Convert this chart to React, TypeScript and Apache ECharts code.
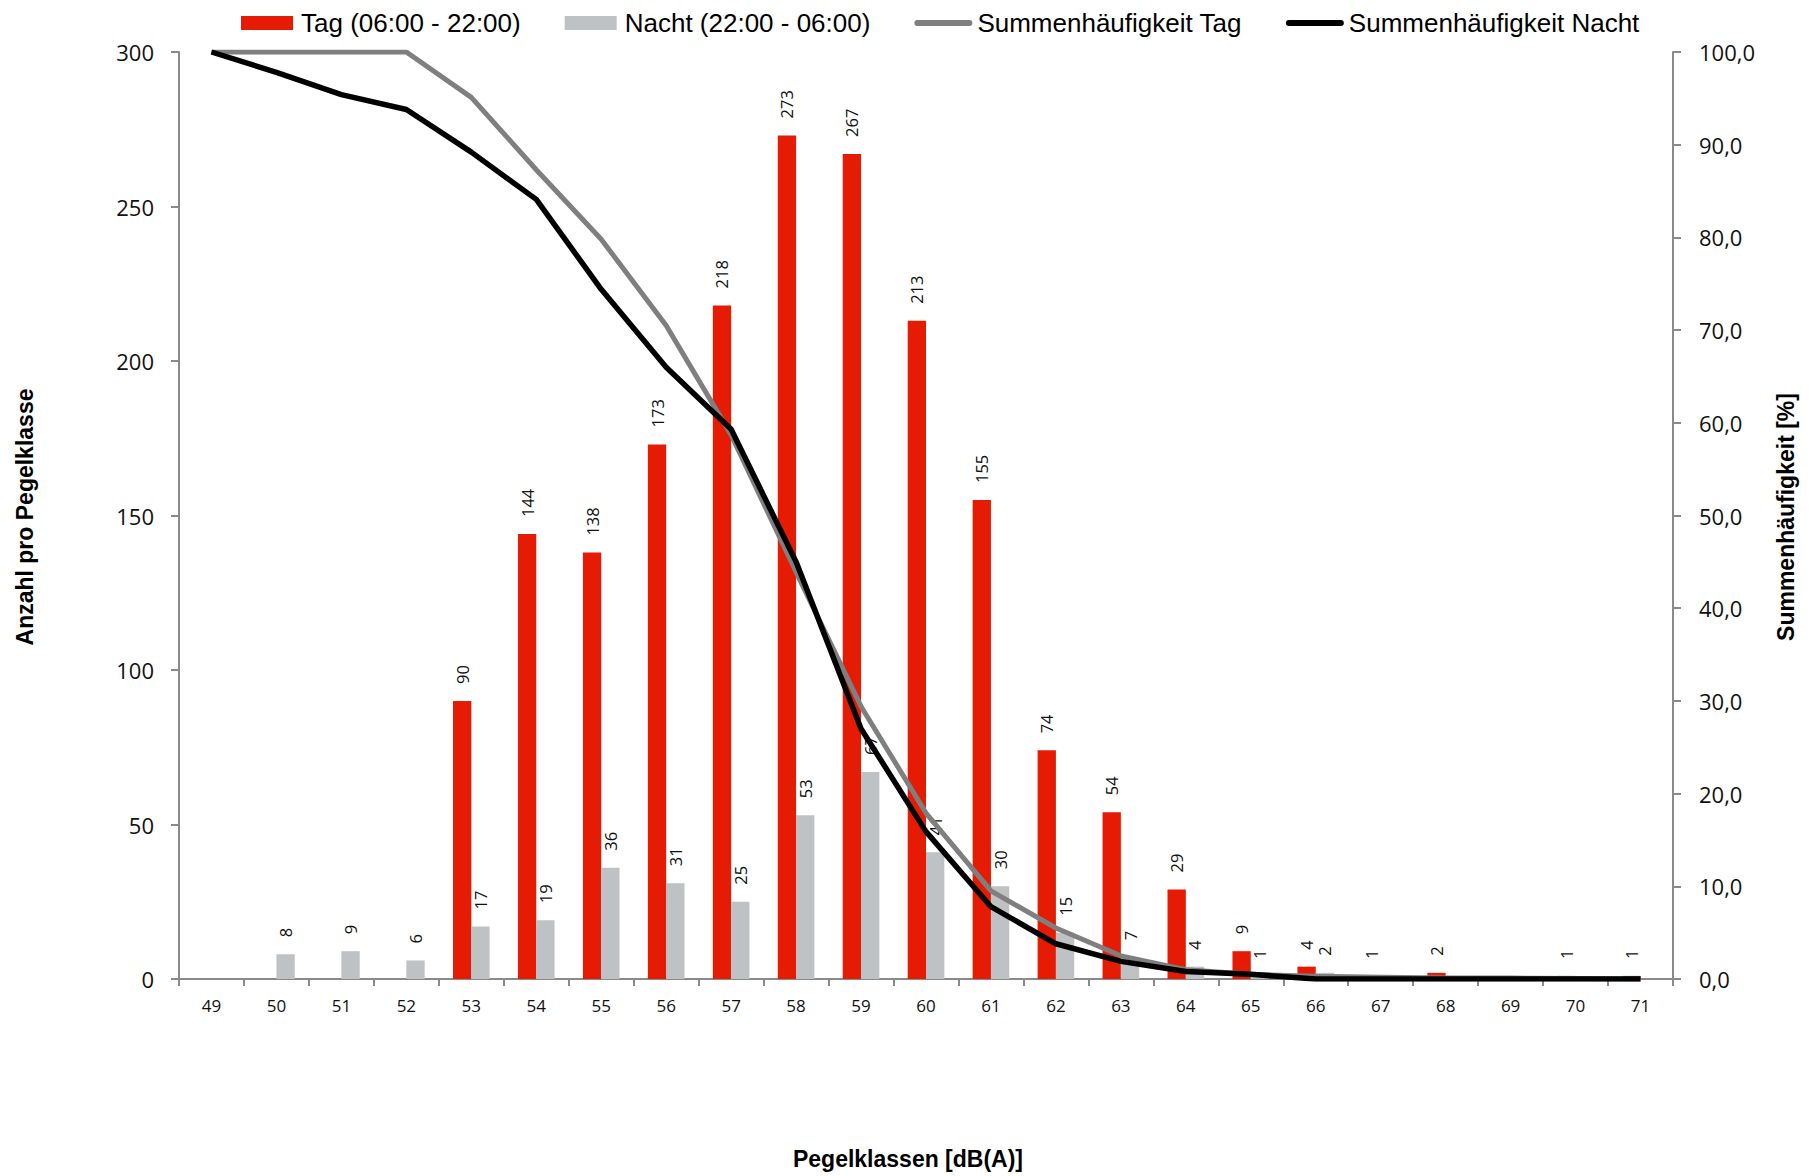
import React, { useEffect, useRef } from "react";
import * as echarts from "echarts";

const categories = ["49","50","51","52","53","54","55","56","57","58","59","60","61","62","63","64","65","66","67","68","69","70","71"];
const tagCounts = [0,0,0,0,90,144,138,173,218,273,267,213,155,74,54,29,9,4,1,2,0,1,1];
const nachtCounts = [0,8,9,6,17,19,36,31,25,53,67,41,30,15,7,4,1,2,0,0,0,0,0];
const tagCumulative = [100.0,100.0,100.0,100.0,95.1,87.3,79.8,70.5,58.7,43.9,29.4,17.9,9.5,5.5,2.5,1.0,0.5,0.3,0.2,0.1,0.1,0.05,0.0];
const nachtCumulative = [100.0,97.8,95.4,93.8,89.2,84.1,74.4,66.0,59.3,45.0,27.0,15.9,7.8,3.8,1.9,0.8,0.5,0.0,0.0,0.0,0.0,0.0,0.0];
const leftTicks = { min: 0, max: 300, interval: 50 };
const rightTicks = { min: 0, max: 100, interval: 10 };

const seriesNames = ["Tag (06:00 - 22:00)", "Nacht (22:00 - 06:00)", "Summenhäufigkeit Tag", "Summenhäufigkeit Nacht"];
const titles = { left: "Anzahl pro Pegelklasse", right: "Summenhäufigkeit [%]", bottom: "Pegelklassen [dB(A)]" };

const RED = "#E51B04";
const GREY_BAR = "#BEC2C4";
const GREY_LINE = "#7F7F7F";
const AXIS = "#8A8A8A";
const NUM_FONT = "'Open Sans', 'DejaVu Sans', sans-serif";
const TXT_FONT = "'Liberation Sans', Arial, sans-serif";

export default function App() {
  const ref = useRef<HTMLDivElement>(null);
  useEffect(() => {
    if (!ref.current) return;
    const chart = echarts.init(ref.current, null, { renderer: "svg" });
    const barLabel = {
      show: true,
      position: "top" as const,
      rotate: 90,
      align: "left" as const,
      verticalAlign: "middle" as const,
      distance: 17,
      fontFamily: NUM_FONT,
      fontSize: 16.5,
      color: "#111",
      formatter: (p: any) => (p.value ? String(p.value) : ""),
    };
    chart.setOption({
      animation: false,
      backgroundColor: "#fff",
      legend: {
        left: 236,
        top: 5,
        itemWidth: 52,
        itemHeight: 14,
        itemGap: 44,
        textStyle: { fontFamily: TXT_FONT, fontSize: 26, color: "#000", padding: [0, 0, 0, 3] },
        data: [
          { name: seriesNames[0], icon: "rect" },
          { name: seriesNames[1], icon: "rect" },
          { name: seriesNames[2], lineStyle: { width: 6, cap: "round" }, itemStyle: { opacity: 0 } },
          { name: seriesNames[3], lineStyle: { width: 6, cap: "round" }, itemStyle: { opacity: 0 } },
        ],
      },
      grid: { left: 179, right: 140, top: 52, bottom: 197, containLabel: false },
      xAxis: {
        type: "category",
        data: categories,
        boundaryGap: true,
        axisLine: { lineStyle: { color: AXIS, width: 2 } },
        axisTick: { show: true, length: 7, lineStyle: { color: AXIS, width: 2 } },
        axisLabel: { fontFamily: NUM_FONT, fontSize: 17, color: "#111", margin: 18 },
        splitLine: { show: false },
      },
      yAxis: [
        {
          type: "value",
          min: leftTicks.min,
          max: leftTicks.max,
          interval: leftTicks.interval,
          position: "left",
          axisLine: { show: true, lineStyle: { color: AXIS, width: 2 } },
          axisTick: { show: true, length: 8, lineStyle: { color: AXIS, width: 2 } },
          axisLabel: { fontFamily: NUM_FONT, fontSize: 22, color: "#111", margin: 25 },
          splitLine: { show: false },
        },
        {
          type: "value",
          min: rightTicks.min,
          max: rightTicks.max,
          interval: rightTicks.interval,
          position: "right",
          axisLine: { show: true, lineStyle: { color: AXIS, width: 2 } },
          axisTick: { show: true, length: 8, lineStyle: { color: AXIS, width: 2 } },
          axisLabel: {
            fontFamily: NUM_FONT,
            fontSize: 22,
            color: "#111",
            margin: 26,
            formatter: (v: number) => v.toFixed(1).replace(".", ","),
          },
          splitLine: { show: false },
        },
      ],
      series: [
        {
          name: seriesNames[0],
          type: "bar",
          data: tagCounts,
          itemStyle: { color: RED },
          barGap: "0%",
          barCategoryGap: "43.6%",
          label: barLabel,
          z: 2,
        },
        {
          name: seriesNames[1],
          type: "bar",
          data: nachtCounts,
          itemStyle: { color: GREY_BAR },
          barGap: "0%",
          barCategoryGap: "43.6%",
          label: barLabel,
          z: 2,
        },
        {
          name: seriesNames[2],
          type: "line",
          yAxisIndex: 1,
          data: tagCumulative,
          symbol: "none",
          lineStyle: { color: GREY_LINE, width: 5 },
          itemStyle: { color: GREY_LINE },
          z: 5,
        },
        {
          name: seriesNames[3],
          type: "line",
          yAxisIndex: 1,
          data: nachtCumulative,
          symbol: "none",
          lineStyle: { color: "#000", width: 5.5 },
          itemStyle: { color: "#000" },
          z: 6,
        },
      ],
      graphic: [
        {
          type: "text",
          x: 25,
          y: 517,
          rotation: Math.PI / 2,
          style: { text: titles.left, fontFamily: TXT_FONT, fontWeight: "bold", fontSize: 23, fill: "#000", align: "center", verticalAlign: "middle" },
        },
        {
          type: "text",
          x: 1786,
          y: 517,
          rotation: Math.PI / 2,
          style: { text: titles.right, fontFamily: TXT_FONT, fontWeight: "bold", fontSize: 23, fill: "#000", align: "center", verticalAlign: "middle" },
        },
        {
          type: "text",
          x: 908,
          y: 1159,
          style: { text: titles.bottom, fontFamily: TXT_FONT, fontWeight: "bold", fontSize: 23, fill: "#000", align: "center", verticalAlign: "middle" },
        },
      ],
    });
    return () => chart.dispose();
  }, []);
  return (
    <div
      ref={ref}
      style={{ position: "fixed", left: 0, top: 0, width: 1813, height: 1176, background: "#fff" }}
    />
  );
}
